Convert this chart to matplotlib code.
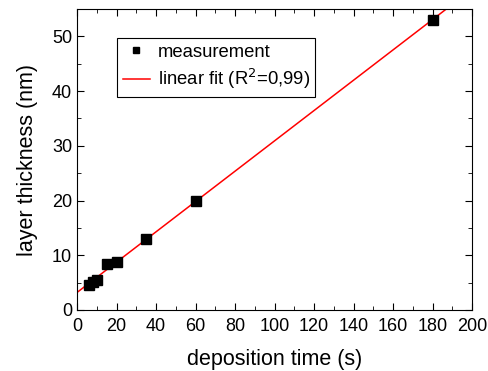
import numpy as np
import matplotlib
matplotlib.use("Agg")
import matplotlib.pyplot as plt
from matplotlib.ticker import MultipleLocator

plt.rcParams['font.family'] = ['Liberation Sans', 'DejaVu Sans']

# measured layer thickness vs deposition time
dep_time = [6, 8, 10, 15, 20, 35, 60, 180]
thickness = [4.6, 5.2, 5.5, 8.4, 8.7, 13.0, 20.0, 53.0]

# linear fit parameters
fit_intercept = 3.2
fit_slope = 0.277

fig = plt.figure(figsize=(4.88, 3.71), dpi=100)
ax = fig.add_axes([77 / 488, 1 - 310 / 371, 395 / 488, 301 / 371])

fit_x = np.array([0, 200])
ax.plot(fit_x, fit_intercept + fit_slope * fit_x, color='red', lw=1.1,
        label='linear fit (R$^2$=0,99)', zorder=2)
ax.plot(dep_time, thickness, 's', color='black', ms=7.6,
        label='measurement', zorder=3)

ax.set_xlim(0, 200)
ax.set_ylim(0, 55)
ax.xaxis.set_major_locator(MultipleLocator(20))
ax.xaxis.set_minor_locator(MultipleLocator(10))
ax.yaxis.set_major_locator(MultipleLocator(10))
ax.yaxis.set_minor_locator(MultipleLocator(5))
ax.tick_params(which='both', direction='in', top=True, right=True, labelsize=13)
ax.tick_params(which='major', length=5)
ax.tick_params(which='minor', length=3)
ax.tick_params(axis='x', pad=6)

ax.set_xlabel('deposition time (s)', fontsize=15.5, labelpad=10)
ax.set_ylabel('layer thickness (nm)', fontsize=15.5, labelpad=10)

handles, labels = ax.get_legend_handles_labels()
leg = ax.legend(handles[::-1], labels[::-1], loc='upper left',
                bbox_to_anchor=(40 / 395, 1 - 29 / 301), fontsize=13.3,
                fancybox=False, edgecolor='black', framealpha=1,
                handlelength=1.5, handletextpad=0.4, markerscale=0.62,
                borderaxespad=0, borderpad=0.3, labelspacing=0.35)
leg.get_frame().set_linewidth(0.8)

fig.savefig('out.png', dpi=100)
